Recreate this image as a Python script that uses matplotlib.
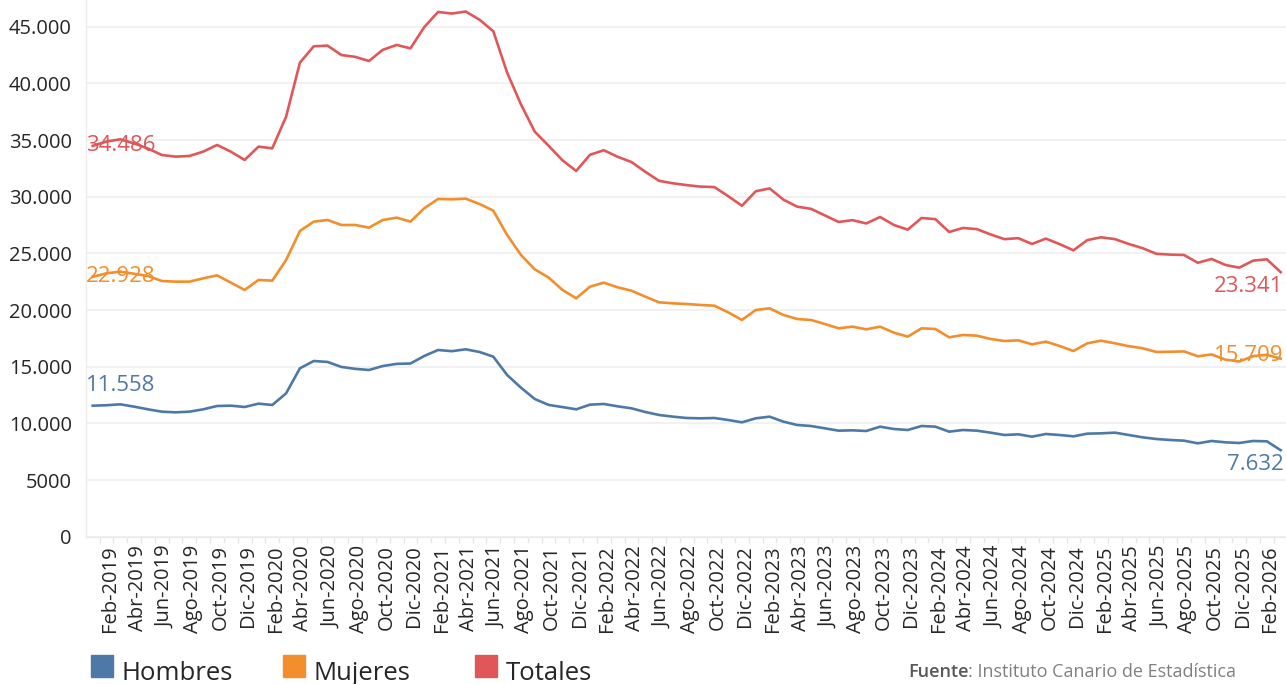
import matplotlib
matplotlib.use("Agg")
import matplotlib.pyplot as plt
import matplotlib.transforms as mtransforms
from matplotlib.patches import Rectangle
from matplotlib.ticker import FuncFormatter, FixedLocator

plt.rcParams['font.family'] = ['Open Sans', 'DejaVu Sans']

# months Jan-2019 .. Mar-2026 (87 points), labels every other month from Feb-2019
month_abbr = ['Ene', 'Feb', 'Mar', 'Abr', 'May', 'Jun', 'Jul', 'Ago', 'Sep', 'Oct', 'Nov', 'Dic']
years = [2019, 2020, 2021, 2022, 2023, 2024, 2025, 2026]
months = [f"{m}-{y}" for y in years for m in month_abbr][:87]

hombres = [11558, 11600, 11680, 11474, 11240, 11033, 10974, 11033, 11239, 11533,
           11562, 11445, 11739, 11621, 12651, 14857, 15504, 15420, 14980, 14810,
           14710, 15060, 15250, 15280, 15945, 16475, 16370, 16534, 16300, 15886,
           14268, 13151, 12151, 11630, 11440, 11239, 11651, 11710, 11504, 11327,
           11004, 10739, 10592, 10474, 10445, 10474, 10298, 10092, 10445, 10592,
           10151, 9856, 9768, 9562, 9356, 9386, 9327, 9709, 9503, 9415,
           9768, 9709, 9268, 9415, 9356, 9180, 8974, 9033, 8827, 9062,
           8974, 8857, 9092, 9121, 9180, 8974, 8768, 8621, 8533, 8474,
           8239, 8445, 8327, 8268, 8445, 8415, 7632]

mujeres = [22928, 23240, 23387, 23200, 23000, 22563, 22504, 22504, 22798, 23063,
           22416, 21769, 22651, 22592, 24416, 26975, 27799, 27946, 27504, 27504,
           27269, 27946, 28151, 27799, 28975, 29799, 29769, 29828, 29357, 28769,
           26622, 24857, 23593, 22870, 21780, 21033, 22063, 22416, 22004, 21710,
           21180, 20681, 20592, 20533, 20445, 20386, 19798, 19121, 20004, 20151,
           19563, 19210, 19121, 18768, 18386, 18533, 18298, 18533, 18004, 17651,
           18386, 18327, 17592, 17798, 17739, 17445, 17269, 17327, 16975, 17210,
           16827, 16386, 17063, 17298, 17063, 16810, 16630, 16300, 16320, 16350,
           15920, 16080, 15620, 15460, 15930, 16050, 15709]

totales = [34486, 34870, 35064, 34700, 34250, 33681, 33534, 33593, 33975, 34564,
           33975, 33240, 34416, 34270, 37064, 41829, 43270, 43330, 42500, 42340,
           41976, 42960, 43390, 43090, 44960, 46300, 46160, 46340, 45620, 44600,
           40950, 38150, 35740, 34500, 33220, 32272, 33700, 34100, 33520, 33060,
           32200, 31400, 31184, 31020, 30890, 30850, 30050, 29200, 30480, 30730,
           29740, 29120, 28930, 28350, 27770, 27930, 27640, 28210, 27505, 27090,
           28120, 28020, 26890, 27240, 27140, 26670, 26255, 26340, 25830, 26300,
           25815, 25270, 26170, 26418, 26256, 25830, 25460, 24960, 24890, 24860,
           24170, 24504, 23975, 23739, 24357, 24475, 23341]

series_names = ['Hombres', 'Mujeres', 'Totales']
colors = ['#4E79A7', '#F28E2B', '#E15759']

W, H = 1286, 684
fig = plt.figure(figsize=(W / 100, H / 100), dpi=100)
ax = fig.add_axes([85.8 / W, (H - 536.7) / H, 1201.8 / W, 536.7 / H])

x = list(range(len(months)))
for vals, c in zip([hombres, mujeres, totales], colors):
    ax.plot(x, vals, color=c, lw=1.9, solid_joinstyle='round', zorder=3)

ax.set_xlim(-0.5, len(months) - 0.5)
ax.set_ylim(0, 47356)

ax.yaxis.set_major_locator(FixedLocator(range(0, 45001, 5000)))
ax.yaxis.set_major_formatter(FuncFormatter(
    lambda v, p: f"{v:,.0f}".replace(',', '.') if v >= 10000 else f"{v:.0f}"))
ax.tick_params(axis='y', length=0, pad=10, labelsize=14.5, labelcolor='#262626')
ax.grid(axis='y', color='#f0f0f0', lw=1.3, zorder=0)

tick_pos = list(range(1, len(months), 2))
ax.set_xticks(tick_pos)
ax.set_xticklabels([months[i] for i in tick_pos], rotation=90)
ax.tick_params(axis='x', length=0, pad=6, labelsize=14.5, labelcolor='#262626')
shift = mtransforms.ScaledTranslation(3.5 / 100, 0, fig.dpi_scale_trans)
for lab in ax.get_xticklabels():
    lab.set_transform(lab.get_transform() + shift)
ax.set_xticks([i - 0.5 for i in range(1, len(months))], minor=True)
ax.tick_params(axis='x', which='minor', length=4, width=1, color='#e6e6e6')

for s in ['top', 'right']:
    ax.spines[s].set_visible(False)
for s in ['left', 'bottom']:
    ax.spines[s].set_color('#ebebeb')
    ax.spines[s].set_linewidth(1)

def fmt(v):
    return f"{v:,.0f}".replace(',', '.')

# start labels
ax.annotate(fmt(totales[0]), (0, totales[0]), xytext=(-5, 0), textcoords='offset points',
            ha='left', va='center', fontsize=16, color=colors[2], zorder=4)
ax.annotate(fmt(mujeres[0]), (0, mujeres[0]), xytext=(-5, 0), textcoords='offset points',
            ha='left', va='center', fontsize=16, color=colors[1], zorder=4)
ax.annotate(fmt(hombres[0]), (0, hombres[0]), xytext=(-5, 14.5), textcoords='offset points',
            ha='left', va='center', fontsize=16, color=colors[0], zorder=4)
# end labels
last = len(months) - 1
ax.annotate(fmt(totales[-1]), (last, totales[-1]), xytext=(2, -10.5), textcoords='offset points',
            ha='right', va='center', fontsize=16, color=colors[2], zorder=4)
ax.annotate(fmt(mujeres[-1]), (last, mujeres[-1]), xytext=(2, 2), textcoords='offset points',
            ha='right', va='center', fontsize=16, color=colors[1], zorder=4)
ax.annotate(fmt(hombres[-1]), (last, hombres[-1]), xytext=(2, -10), textcoords='offset points',
            ha='right', va='center', fontsize=16, color=colors[0], zorder=4)

# legend
for k, (name, c) in enumerate(zip(series_names, colors)):
    x0 = 90.7 + 192 * k
    fig.patches.append(Rectangle((x0 / W, (H - 676.7) / H), 22.6 / W, 21.7 / H,
                                 transform=fig.transFigure, color=c))
    fig.text((x0 + 31) / W, 3.5 / H, name, fontsize=18.5, color='#262626', va='baseline')

t1 = fig.text(908 / W, (H - 677) / H, 'Fuente', fontsize=13, color='#595959',
              weight='semibold', va='baseline')
plt.annotate(': Instituto Canario de Estadística', xy=(1, 0), xycoords=t1,
             va='bottom', ha='left', fontsize=13, color='#808080')

fig.savefig('out.png', dpi=100)
